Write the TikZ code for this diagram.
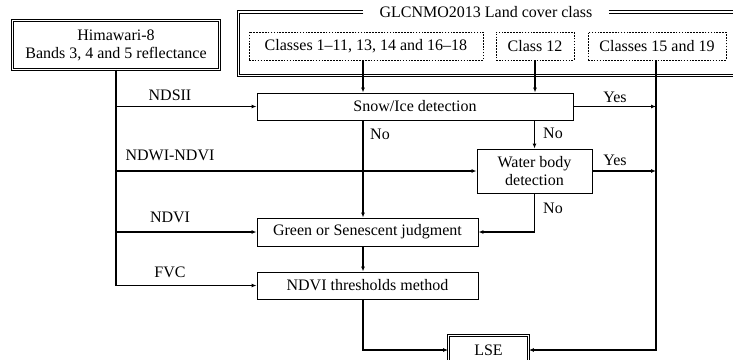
\documentclass[tikz,border=0pt]{standalone}
\usepackage{fontspec}
\setmainfont{Liberation Serif}
\usetikzlibrary{arrows.meta}
\begin{document}
\begin{tikzpicture}[x=1pt,y=-1pt,
  font=\fontsize{16}{18}\selectfont,
  box/.style={draw, line width=0.9pt, inner sep=0pt, align=center},
  dbox/.style={draw, double, double distance=1.5pt, line width=0.8pt, inner sep=0pt, align=center},
  dashbox/.style={draw, dash pattern=on 1.6pt off 1.3pt, line width=0.8pt, inner sep=0pt},
  frame/.style={double, double distance=1.5pt, line width=0.8pt},
  conn/.style={line width=1.4pt},
  arr/.style={conn, -{Latex[length=5pt,width=4pt]}},
  lbl/.style={inner sep=0pt}]
\useasboundingbox (0,0) rectangle (733,359);
\clip (0,0) rectangle (733,359);

% input boxes
\node[dbox, minimum width=207, minimum height=49] (him) at (116,45) {Himawari-8\\Bands 3, 4 and 5 reflectance};

\node[lbl] (glct) at (486,12) {GLCNMO2013 Land cover class};
\draw[frame] ([xshift=-16pt]glct.west) -- (238.5,12) -- (238.5,75.5) -- (740,75.5);
\draw[frame] ([xshift=16pt]glct.east) -- (740,12);

\node[dashbox, minimum width=234, minimum height=28] (c1) at (366,46) {Classes 1--11, 13, 14 and 16--18};
\node[dashbox, minimum width=78, minimum height=28] (c12) at (535,46) {Class 12};
\node[dashbox, minimum width=138, minimum height=28] (c15) at (657,46) {Classes 15 and 19};

% process boxes
\node[box, minimum width=316, minimum height=27] (snow) at (415,106.5) {Snow/Ice detection};
\node[box, minimum width=115, minimum height=44] (water) at (534.5,171) {Water body\\detection};
\node[box, minimum width=221, minimum height=28] (green) at (367.5,232) {Green or Senescent judgment};
\node[box, minimum width=221, minimum height=27] (ndvit) at (367.5,285.5) {NDVI thresholds method};
\node[dbox, minimum width=80, minimum height=29] (lse) at (488.5,350) {LSE};

% column coordinates
\coordinate (cA) at (363,0);
\coordinate (cC) at (656,0);

% trunk from Himawari-8
\draw[arr] (him.south) |- (ndvit.west);
\draw[arr] (snow.west -| him.south) -- (snow.west);
\draw[arr] (water.west -| him.south) -- (water.west);
\draw[arr] (green.west -| him.south) -- (green.west);

% land cover inputs
\draw[arr] (c1.south -| cA) -- (snow.north -| cA);
\draw[arr] (c12.south) -- (snow.north -| c12.south);
\draw[arr] (c15.south -| cC) |- (lse.east);

% decisions
\draw[arr] (snow.south -| cA) -- (green.north -| cA);
\draw[arr] (snow.south -| water.north) -- (water.north);
\draw[arr] (snow.east) -- (snow.east -| cC);
\draw[arr] (water.east) -- (water.east -| cC);
\draw[arr] (water.south) |- (green.east);
\draw[arr] (green.south -| cA) -- (ndvit.north -| cA);
\draw[arr] (ndvit.south -| cA) |- (lse.west);

% labels
\node[lbl] (l1) at (170,95) {NDSII};
\node[lbl] (l2) at (170,155) {NDWI-NDVI};
\node[lbl] (l3) at (170,217) {NDVI};
\node[lbl] (l4) at (170,272) {FVC};
\node[lbl] (y1) at (615,97) {Yes};
\node[lbl] (y2) at (615,160) {Yes};
\node[lbl] (n1) at (380,134) {No};
\node[lbl] (n2) at (553,133) {No};
\node[lbl] (n3) at (553,208) {No};
\end{tikzpicture}
\end{document}
